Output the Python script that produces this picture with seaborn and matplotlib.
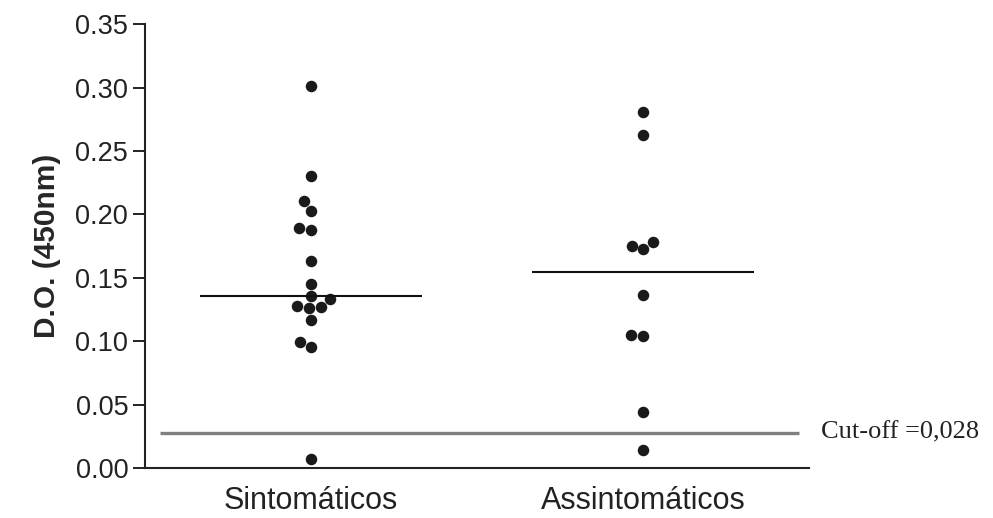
import numpy as np
import pandas as pd
import matplotlib
matplotlib.use("Agg")
import matplotlib.pyplot as plt
import seaborn as sns

# Optical density readings (450 nm) per group
groups = ["Sintomáticos", "Assintomáticos"]
sintomaticos = [0.301, 0.230, 0.2105, 0.203, 0.188, 0.189, 0.163, 0.145, 0.1355,
                0.133, 0.127, 0.128, 0.126, 0.117, 0.099, 0.0955, 0.0074]
assintomaticos = [0.281, 0.2626, 0.178, 0.1724, 0.1755, 0.1361, 0.104, 0.1053,
                  0.044, 0.014]
cutoff = 0.028
yticks = [0.00, 0.05, 0.10, 0.15, 0.20, 0.25, 0.30, 0.35]

df = pd.DataFrame({
    "grupo": [groups[0]] * len(sintomaticos) + [groups[1]] * len(assintomaticos),
    "do": sintomaticos + assintomaticos,
})

sns.set_style("ticks")
plt.rcParams["font.family"] = ["Liberation Sans", "DejaVu Sans"]

fig = plt.figure(figsize=(9.93, 5.18), dpi=100)
ax = fig.add_axes([145 / 993, 1 - 468 / 518, (809 - 145) / 993, (468 - 24.3) / 518])

sns.swarmplot(data=df, x="grupo", y="do", order=groups, ax=ax,
              color="#1a1a1a", size=8.3, linewidth=0)

# Median bar for each group
for i, vals in enumerate([sintomaticos, assintomaticos]):
    ax.hlines(np.median(vals), i - 0.333, i + 0.333, color="#111111", lw=1.5, zorder=3)

# Cut-off reference line
ax.hlines(cutoff, -0.455, 1.47, color="#808080", lw=2.4, zorder=2)
ax.text(1.535, cutoff, "Cut-off =0,028", family=["Liberation Serif"], fontsize=19,
        va="center", ha="left", color="#222222", clip_on=False)

ax.set_xlim(-0.5, 1.5)
ax.set_ylim(0, 0.35)
ax.set_yticks(yticks)
ax.set_yticklabels([f"{t:.2f}" for t in yticks])
ax.set_xlabel("")
ax.set_ylabel("D.O. (450nm)", fontsize=21.5, fontweight="bold", labelpad=10)

ax.tick_params(axis="y", length=8.6, width=1.4, pad=3.5, labelsize=19.5, colors="#222222")
ax.tick_params(axis="x", length=0, pad=13, labelsize=22, colors="#222222")
for s in ["top", "right"]:
    ax.spines[s].set_visible(False)
for s in ["left", "bottom"]:
    ax.spines[s].set_linewidth(1.5)
    ax.spines[s].set_color("#222222")

fig.savefig("out.png", dpi=100)
